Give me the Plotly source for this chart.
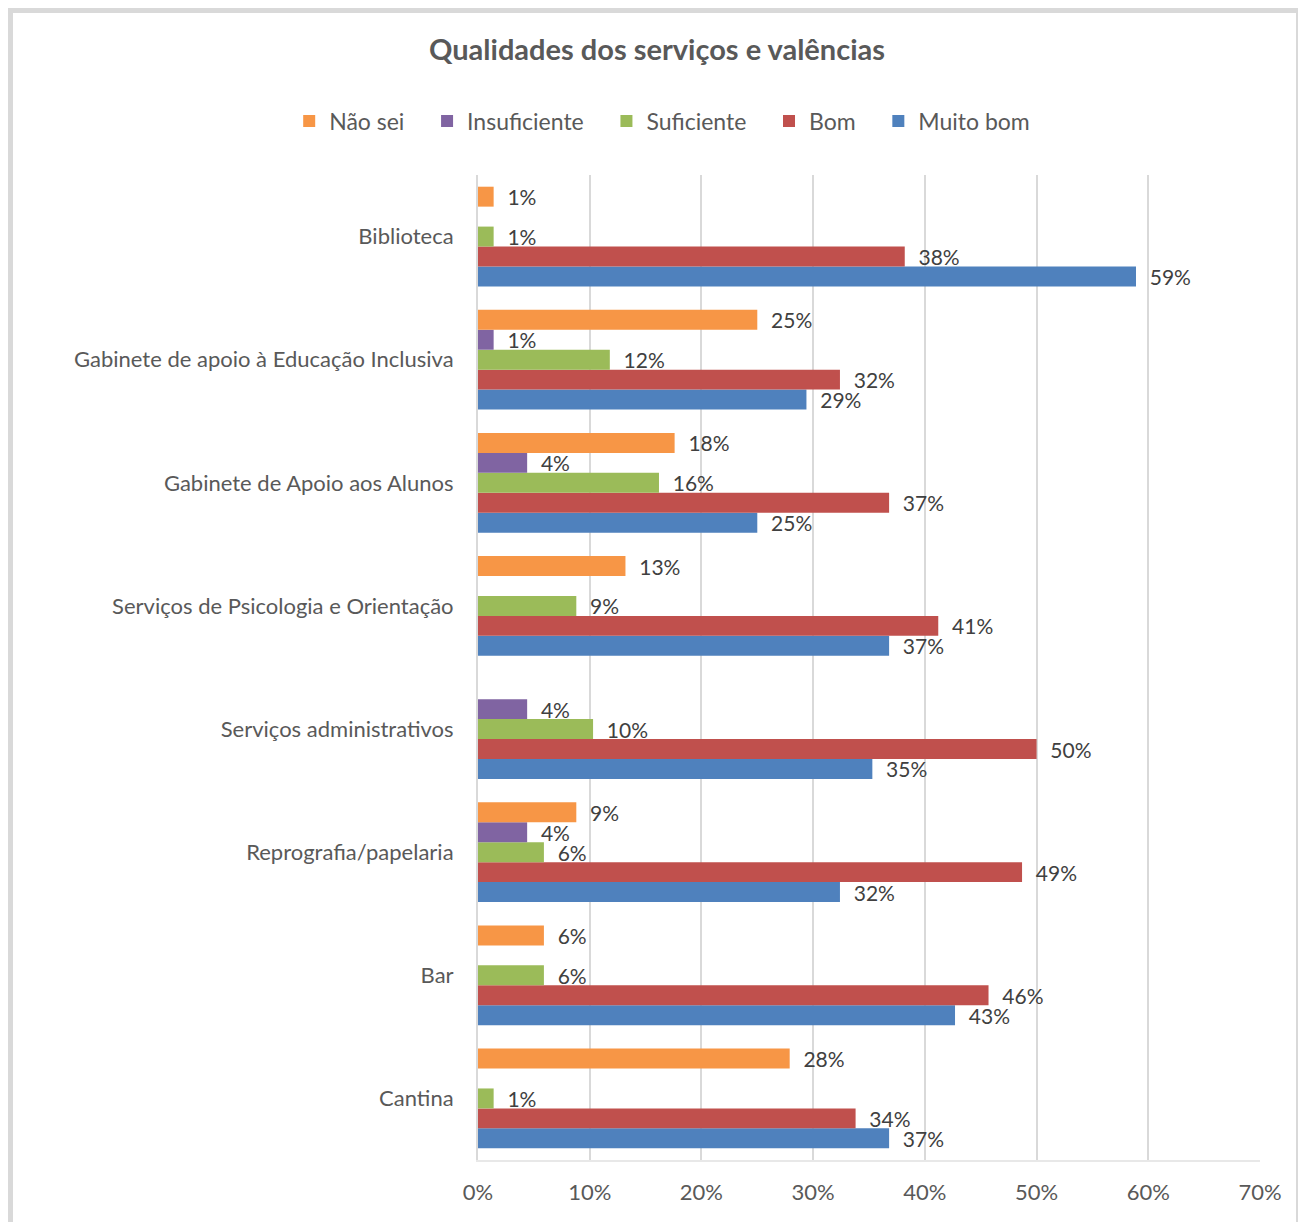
import plotly.graph_objects as go

# Categories, top to bottom as in the chart
categorias = [
    "Biblioteca",
    "Gabinete de apoio à Educação Inclusiva",
    "Gabinete de Apoio aos Alunos",
    "Serviços de Psicologia e Orientação",
    "Serviços administrativos",
    "Reprografia/papelaria",
    "Bar",
    "Cantina",
]

nao_sei      = [0.014, 0.250, 0.176, 0.132, 0.0,   0.088, 0.059, 0.279]
insuficiente = [0.0,   0.014, 0.044, 0.0,   0.044, 0.044, 0.0,   0.0]
suficiente   = [0.014, 0.118, 0.162, 0.088, 0.103, 0.059, 0.059, 0.014]
bom          = [0.382, 0.324, 0.368, 0.412, 0.500, 0.487, 0.457, 0.338]
muito_bom    = [0.589, 0.294, 0.250, 0.368, 0.353, 0.324, 0.427, 0.368]

ticks = [0, 0.1, 0.2, 0.3, 0.4, 0.5, 0.6, 0.7]

FONT = "Lato, 'Open Sans', sans-serif"

# page body has an 8px margin, so the figure sits at (8, 8)
W, H = 1298, 1214
L, T, PW, PH = 470, 167, 782, 985

# plotly draws the first trace at the bottom of each group
series = [
    ("Muito bom", muito_bom, "#4F81BD"),
    ("Bom", bom, "#C0504D"),
    ("Suficiente", suficiente, "#9BBB59"),
    ("Insuficiente", insuficiente, "#8064A2"),
    ("Não sei", nao_sei, "#F79646"),
]

pad = "\u00a0" * 3  # extra room between legend entries

fig = go.Figure()
for i, (nome, vals, cor) in enumerate(series):
    fig.add_trace(go.Bar(
        y=categorias, x=vals, name=nome + (pad if i else ""), orientation="h",
        marker=dict(color=cor, line=dict(width=0)),
        text=["  " + f"{v:.0%}" if v else "" for v in vals],
        textposition="outside", constraintext="none", cliponaxis=False,
        textfont=dict(family=FONT, size=21, color="#404040"),
    ))

fig.update_layout(
    width=W, height=H,
    paper_bgcolor="white", plot_bgcolor="white",
    barmode="group", bargap=0.19, bargroupgap=0,
    margin=dict(l=L, r=W - L - PW, t=T, b=H - T - PH),
    font=dict(family=FONT, size=22, color="#595959"),
    title=dict(text="<b>Qualidades dos serviços e valências</b>", x=0.5, xref="container",
               xanchor="center", y=1 - 42 / H, yref="container", yanchor="middle",
               font=dict(size=29, color="#595959")),
    legend=dict(orientation="h", traceorder="reversed", x=0.504, xref="container",
                xanchor="center", y=1 - 113 / H, yref="container", yanchor="middle",
                font=dict(size=23, color="#595959"), itemwidth=30,
                entrywidthmode="pixels"),
    showlegend=True,
)
fig.update_xaxes(range=[0, 0.7], tickvals=ticks, tickformat=".0%",
                 showgrid=True, gridcolor="#D9D9D9", gridwidth=2,
                 zeroline=False, showline=True, linecolor="#E8E8E8", linewidth=2,
                 ticks="", ticklabelstandoff=12,
                 tickfont=dict(size=22, color="#595959"))
fig.update_yaxes(categoryorder="array", categoryarray=categorias[::-1],
                 showline=True, linecolor="#D9D9D9", linewidth=2, ticks="",
                 ticklabelstandoff=18, tickfont=dict(size=22, color="#595959"))

# outer chart border (figure pixel coords -> paper coords)
def px(fx):
    return (fx - L) / PW

def py(fy):
    return 1 - (fy - T) / PH

fig.add_shape(type="rect", xref="paper", yref="paper",
              x0=px(1), x1=px(W - 6), y0=py(H + 20), y1=py(1),
              line=dict(color="#D9D9D9", width=8), layer="below")

fig.write_html("out.html")
